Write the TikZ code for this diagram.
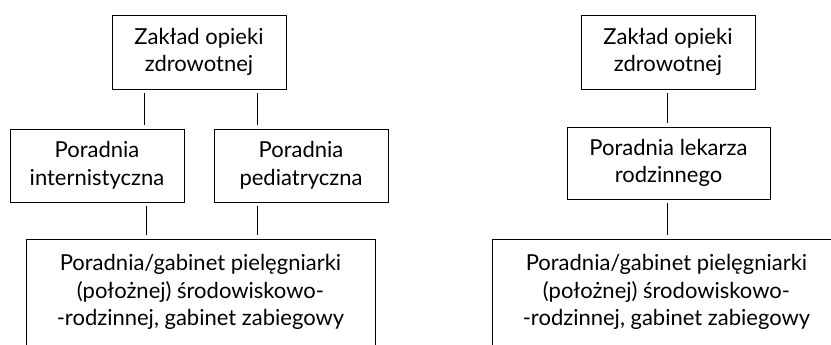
\documentclass[tikz,border=0pt]{standalone}
\usepackage{fontspec}
\setmainfont{Lato}
\begin{document}
\begin{tikzpicture}[x=1pt,y=1pt,
  box/.style={draw,line width=0.9pt,align=center,font=\fontsize{22}{27.5}\selectfont,inner sep=0pt},
  link/.style={line width=0.7pt,shorten <=4pt,shorten >=4pt}]
\useasboundingbox (0,0) rectangle (831,345);
\clip (0,0) rectangle (831,345);
% left chart
\node[box,minimum width=174pt,minimum height=74pt](zoz1) at (199,293){Zakład opieki\\zdrowotnej};
\node[box,minimum width=174pt,minimum height=73pt](int) at (97,179.5){Poradnia\\internistyczna};
\node[box,minimum width=174pt,minimum height=73pt](ped) at (301,179.5){Poradnia\\pediatryczna};
\node[box,anchor=north,minimum width=349pt,inner ysep=15pt,text depth=40pt](pz1) at (200.5,106){Poradnia/gabinet pielęgniarki\\(położnej) środowiskowo-\\-rodzinnej, gabinet zabiegowy};
\draw[link]([xshift=-55pt]zoz1.south)--([xshift=-55pt]zoz1.south|-int.north);
\draw[link]([xshift=58pt]zoz1.south)--([xshift=58pt]zoz1.south|-ped.north);
\draw[link]([xshift=-54.5pt]pz1.north|-int.south)--([xshift=-54.5pt]pz1.north);
\draw[link]([xshift=56.5pt]pz1.north|-ped.south)--([xshift=56.5pt]pz1.north);
% right chart
\node[box,minimum width=174pt,minimum height=74pt](zoz2) at (668,293){Zakład opieki\\zdrowotnej};
\node[box,minimum width=203pt,minimum height=72pt](lek) at (668.5,182){Poradnia lekarza\\rodzinnego};
\node[box,anchor=north,minimum width=349pt,inner ysep=15pt,text depth=40pt](pz2) at (666.5,106){Poradnia/gabinet pielęgniarki\\(położnej) środowiskowo-\\-rodzinnej, gabinet zabiegowy};
\draw[link]([xshift=-1pt]zoz2.south)--([xshift=-1pt]zoz2.south|-lek.north);
\draw[link]([xshift=-1pt]zoz2.south|-lek.south)--([xshift=-1pt]zoz2.south|-pz2.north);
\end{tikzpicture}
\end{document}
